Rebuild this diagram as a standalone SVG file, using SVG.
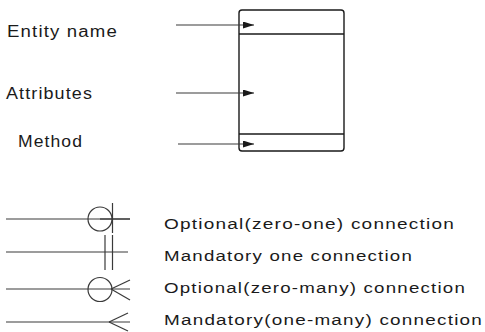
<svg xmlns="http://www.w3.org/2000/svg" width="485" height="332" viewBox="0 0 485 332">
<style>
  .lbl { font-family: "Liberation Sans", Arial, sans-serif; fill: #1a1a1a; letter-spacing: 1px; }
  .top { font-size: 16px; }
  .leg { font-size: 15.5px; }
  .ln { stroke: #3a3a3a; stroke-width: 1.2; fill: none; }
  .box { stroke: #1a1a1a; stroke-width: 1.4; fill: #fff; }
</style>
<defs>
  <marker id="ah" markerUnits="userSpaceOnUse" viewBox="0 0 11 7" refX="11" refY="3.5" markerWidth="11" markerHeight="7" orient="auto">
    <path d="M0,0 L11,3.5 L0,7 z" fill="#1a1a1a"/>
  </marker>
</defs>
<rect width="485" height="332" fill="#fff"/>

<g id="entity">
  <rect class="box" x="239" y="10" width="105" height="141" rx="3"/>
  <line class="box" x1="239" y1="34" x2="344" y2="34"/>
  <line class="box" x1="239" y1="134" x2="344" y2="134"/>
</g>

<g id="label-entity-name"><text class="lbl top" x="7" y="37" textLength="111" lengthAdjust="spacingAndGlyphs">Entity name</text></g>
<g id="label-attributes"><text class="lbl top" x="6" y="99" textLength="87" lengthAdjust="spacingAndGlyphs">Attributes</text></g>
<g id="label-method"><text class="lbl top" x="18" y="147" textLength="65" lengthAdjust="spacingAndGlyphs">Method</text></g>

<g id="connectors">
  <line class="ln" x1="176" y1="25" x2="254" y2="25" marker-end="url(#ah)"/>
  <line class="ln" x1="176" y1="93" x2="254" y2="93" marker-end="url(#ah)"/>
  <line class="ln" x1="178" y1="144" x2="254" y2="144" marker-end="url(#ah)"/>
</g>

<g id="legend-optional-one">
  <line class="ln" x1="6" y1="219" x2="130" y2="219"/>
  <circle class="ln" cx="100" cy="219" r="12" fill="#fff"/>
  <line class="ln" x1="100" y1="219" x2="130" y2="219"/>
  <line class="ln" x1="112.5" y1="203" x2="112.5" y2="233"/>
  <text class="lbl leg" x="164" y="229" textLength="291" lengthAdjust="spacingAndGlyphs">Optional(zero-one) connection</text>
</g>

<g id="legend-mandatory-one">
  <line class="ln" x1="6" y1="252" x2="128" y2="252"/>
  <line class="ln" x1="105" y1="235" x2="105" y2="270"/>
  <line class="ln" x1="112.5" y1="235" x2="112.5" y2="270"/>
  <text class="lbl leg" x="164" y="261" textLength="249" lengthAdjust="spacingAndGlyphs">Mandatory one connection</text>
</g>

<g id="legend-optional-many">
  <line class="ln" x1="6" y1="289" x2="130" y2="289"/>
  <circle class="ln" cx="100" cy="289.5" r="12"/>
  <line class="ln" x1="111" y1="289" x2="130" y2="280"/>
  <line class="ln" x1="111" y1="289" x2="130" y2="300"/>
  <text class="lbl leg" x="164" y="293" textLength="302" lengthAdjust="spacingAndGlyphs">Optional(zero-many) connection</text>
</g>

<g id="legend-mandatory-many">
  <line class="ln" x1="6" y1="322" x2="130" y2="322"/>
  <line class="ln" x1="109" y1="322" x2="128" y2="313"/>
  <line class="ln" x1="109" y1="322" x2="128" y2="331"/>
  <text class="lbl leg" x="164" y="325" textLength="319" lengthAdjust="spacingAndGlyphs">Mandatory(one-many) connection</text>
</g>
</svg>
